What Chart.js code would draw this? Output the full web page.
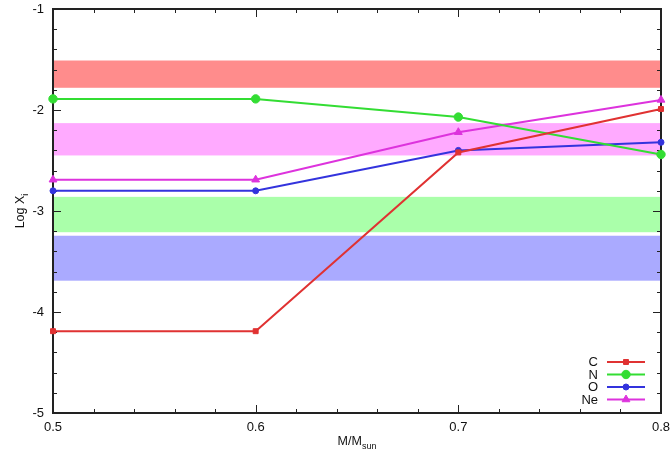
<!DOCTYPE html>
<html>
<head>
<meta charset="utf-8">
<script src="https://cdn.jsdelivr.net/npm/chart.js@4/dist/chart.umd.min.js"></script>
<style>
html,body{margin:0;padding:0;background:#fff;}
#wrap{width:672px;height:459px;position:relative;}
</style>
</head>
<body>
<div id="wrap"><canvas id="c" width="672" height="459"></canvas></div>
<script>
// ---- data ----
const masses = [0.5, 0.6, 0.7, 0.8];
const seriesNames = ["C", "N", "O", "Ne"];
const valuesC  = [-4.19, -4.19, -2.42, -1.99];
const valuesN  = [-1.89, -1.89, -2.07, -2.44];
const valuesO  = [-2.80, -2.80, -2.40, -2.32];
const valuesNe = [-2.69, -2.69, -2.22, -1.90];
const bandC  = [-1.78, -1.51];
const bandN  = [-3.21, -2.86];
const bandO  = [-3.69, -3.245];
const bandNe = [-2.45, -2.13];
const yTicks = [-5, -4, -3, -2, -1];
const xTicks = [0.5, 0.6, 0.7, 0.8];

const colC = '#e03232', colN = '#33dd33', colO = '#3333dd', colNe = '#dd33dd';
const bands = [
  {r: bandC,  color: '#ff8c8c'},
  {r: bandNe, color: '#ffaaff'},
  {r: bandN,  color: '#aaffaa'},
  {r: bandO,  color: '#aaaaff'}
];

const pts = arr => masses.map((m, i) => ({x: m, y: arr[i]}));
const FONT = '"Liberation Sans", Arial, Helvetica, sans-serif';

const ds = [
  {label: 'C',  data: pts(valuesC),  borderColor: colC,  backgroundColor: colC,  pointStyle: 'rect',     pointRadius: 3.5},
  {label: 'N',  data: pts(valuesN),  borderColor: colN,  backgroundColor: colN,  pointStyle: 'circle',   pointRadius: 4.2},
  {label: 'O',  data: pts(valuesO),  borderColor: colO,  backgroundColor: colO,  pointStyle: 'circle',   pointRadius: 3},
  {label: 'Ne', data: pts(valuesNe), borderColor: colNe, backgroundColor: colNe, pointStyle: 'triangle', pointRadius: 4.5}
].map(d => Object.assign(d, {borderWidth: 2, pointBorderWidth: 1, tension: 0, clip: false, pointHoverRadius: d.pointRadius}));

const zeroPad = s => { s.paddingTop = 0; s.paddingBottom = 0; s.paddingLeft = 0; s.paddingRight = 0; };

const plugin = {
  id: 'deco',
  beforeDatasetsDraw(chart) {
    const ctx = chart.ctx, a = chart.chartArea, xs = chart.scales.x, ys = chart.scales.y;
    ctx.save();
    bands.forEach(b => {
      const y1 = ys.getPixelForValue(b.r[1]), y0 = ys.getPixelForValue(b.r[0]);
      ctx.fillStyle = b.color;
      ctx.fillRect(a.left, y1, a.right - a.left, y0 - y1);
    });
    ctx.strokeStyle = '#222';
    ctx.lineWidth = 1;
    ctx.beginPath();
    for (let v = -5; v <= -1.0001 + 1e-9; v += 0.2) {
      const y = Math.round(ys.getPixelForValue(v)) + 0.5;
      const major = Math.abs(v - Math.round(v)) < 1e-6;
      const L = major ? 8 : 4;
      ctx.moveTo(a.left, y); ctx.lineTo(a.left + L, y);
      ctx.moveTo(a.right, y); ctx.lineTo(a.right - L, y);
    }
    for (let k = 0; k <= 15; k++) {
      const v = 0.5 + k * 0.02;
      const x = Math.round(xs.getPixelForValue(v)) + 0.5;
      const major = k % 5 === 0;
      const L = major ? 8 : 4;
      ctx.moveTo(x, a.bottom); ctx.lineTo(x, a.bottom - L);
      ctx.moveTo(x, a.top); ctx.lineTo(x, a.top + L);
    }
    ctx.stroke();
    ctx.strokeStyle = '#222';
    ctx.lineWidth = 2;
    ctx.strokeRect(a.left, a.top, a.right - a.left, a.bottom - a.top);
    ctx.restore();
  },
  afterDraw(chart) {
    const ctx = chart.ctx, a = chart.chartArea;
    ctx.save();
    ctx.fillStyle = '#111';
    ctx.textBaseline = 'alphabetic';
    ctx.font = '12.5px ' + FONT;
    const main = 'M/M', sub = 'sun';
    const wMain = ctx.measureText(main).width;
    ctx.font = '9px ' + FONT;
    const wSub = ctx.measureText(sub).width;
    const cx = (a.left + a.right) / 2;
    let x0 = cx - (wMain + wSub) / 2;
    ctx.font = '12.5px ' + FONT;
    ctx.textAlign = 'left';
    ctx.fillText(main, x0, 445);
    ctx.font = '9px ' + FONT;
    ctx.fillText(sub, x0 + wMain, 449);
    ctx.save();
    ctx.translate(20, (a.top + a.bottom) / 2);
    ctx.rotate(-Math.PI / 2);
    ctx.font = '12.5px ' + FONT;
    const m2 = 'Log X', s2 = 'i';
    const wm2 = ctx.measureText(m2).width;
    ctx.font = '9px ' + FONT;
    const ws2 = ctx.measureText(s2).width;
    const sx = -(wm2 + ws2) / 2;
    ctx.font = '12.5px ' + FONT;
    ctx.fillText(m2, sx, 4);
    ctx.font = '9px ' + FONT;
    ctx.fillText(s2, sx + wm2, 8);
    ctx.restore();
    const rowsY = [362, 374.5, 387, 399.5];
    ctx.font = '13px ' + FONT;
    ctx.textAlign = 'right';
    ctx.textBaseline = 'middle';
    chart.data.datasets.forEach((d, i) => {
      const y = rowsY[i];
      ctx.fillStyle = '#111';
      ctx.fillText(seriesNames[i], 598, y + 0.5);
      ctx.strokeStyle = d.borderColor;
      ctx.lineWidth = 2;
      ctx.beginPath(); ctx.moveTo(607, y); ctx.lineTo(645, y); ctx.stroke();
      ctx.fillStyle = d.backgroundColor;
      ctx.lineWidth = 1;
      Chart.helpers.drawPoint(ctx, {pointStyle: d.pointStyle, radius: d.pointRadius, borderWidth: 1, rotation: 0}, 626, y);
    });
    ctx.restore();
  }
};

new Chart(document.getElementById('c'), {
  type: 'line',
  data: {datasets: ds},
  options: {
    responsive: false,
    animation: false,
    layout: {padding: {left: 0, top: 9, right: 11, bottom: 0}},
    plugins: {legend: {display: false}, tooltip: {enabled: false}},
    scales: {
      x: {
        type: 'linear', min: 0.5, max: 0.8,
        afterBuildTicks: s => { s.ticks = xTicks.map(v => ({value: v})); },
        afterFit: s => { s.height = 46; zeroPad(s); },
        grid: {display: false, drawTicks: false},
        border: {display: false},
        ticks: {padding: 7, color: '#111', font: {size: 13, family: FONT}, callback: v => Number(v).toFixed(1), maxRotation: 0}
      },
      y: {
        type: 'linear', min: -5, max: -1,
        afterBuildTicks: s => { s.ticks = yTicks.map(v => ({value: v})); },
        afterFit: s => { s.width = 53; zeroPad(s); },
        grid: {display: false, drawTicks: false},
        border: {display: false},
        ticks: {padding: 9, color: '#111', font: {size: 13, family: FONT}, callback: v => String(v)}
      }
    }
  },
  plugins: [plugin]
});
</script>
</body>
</html>
